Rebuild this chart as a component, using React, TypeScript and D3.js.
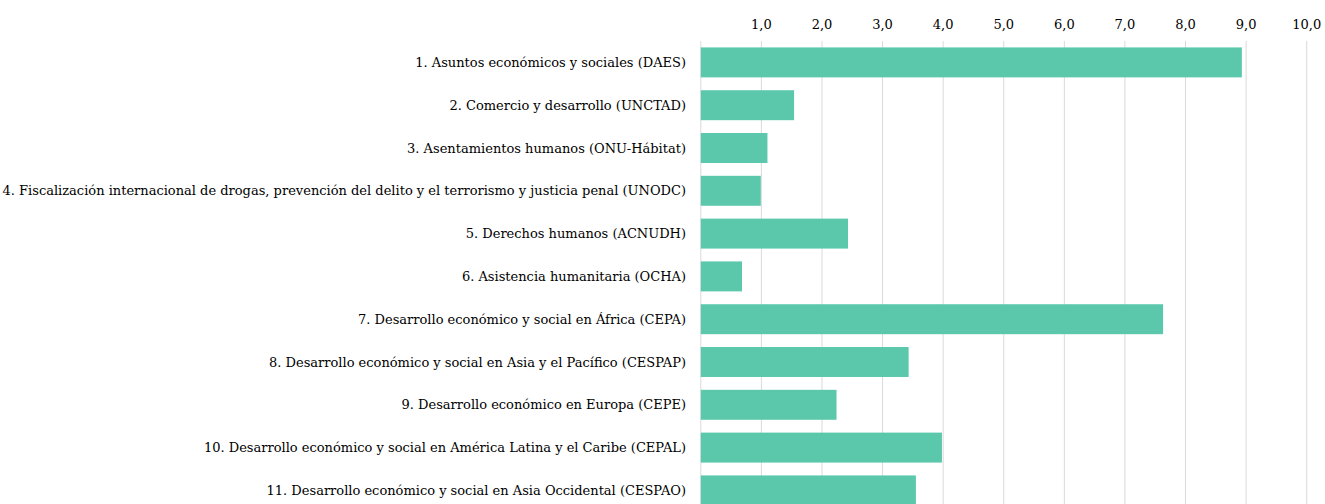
import React from 'react';
import * as d3 from 'd3';

const categories = [
  '1. Asuntos económicos y sociales (DAES)',
  '2. Comercio y desarrollo (UNCTAD)',
  '3. Asentamientos humanos (ONU-Hábitat)',
  '4. Fiscalización internacional de drogas, prevención del delito y el terrorismo y justicia penal (UNODC)',
  '5. Derechos humanos (ACNUDH)',
  '6. Asistencia humanitaria (OCHA)',
  '7. Desarrollo económico y social en África (CEPA)',
  '8. Desarrollo económico y social en Asia y el Pacífico (CESPAP)',
  '9. Desarrollo económico en Europa (CEPE)',
  '10. Desarrollo económico y social en América Latina y el Caribe (CEPAL)',
  '11. Desarrollo económico y social en Asia Occidental (CESPAO)',
];

const values = [8.93, 1.54, 1.1, 0.99, 2.43, 0.68, 7.63, 3.43, 2.24, 3.98, 3.55];

const tickValues = [0, 1, 2, 3, 4, 5, 6, 7, 8, 9, 10];

const width = 1325;
const height = 504;

export default function App() {
  const x = d3.scaleLinear().domain([0, 10]).range([700.8, 1306.7]);
  const y = d3.scaleBand<string>()
    .domain(categories)
    .range([41, 41 + 11 * 42.8])
    .paddingInner(0.3)
    .paddingOuter(0.15);

  const fmt = (v: number) => d3.format('.1f')(v).replace('.', ',');
  const textStyle = { fontFamily: "'DejaVu Serif', serif", fontSize: '13px' };

  return (
    <svg width={width} height={height}
      style={{ position: 'absolute', left: 0, top: 0, display: 'block', background: '#fff' }}>
      {/* grid */}
      {tickValues.map(t => (
        <line key={'g' + t} x1={x(t)} x2={x(t)} y1={41} y2={height}
          stroke="#d9d9d9" strokeWidth={1} />
      ))}
      {/* tick labels on top */}
      {tickValues.filter(t => t > 0).map(t => (
        <text key={'t' + t} x={x(t)} y={24} textAnchor="middle" dominantBaseline="central"
          style={textStyle} fill="#000">{fmt(t)}</text>
      ))}
      {/* bars */}
      {categories.map((c, i) => (
        <rect key={'b' + i} x={x(0)} y={y(c)!} width={x(values[i]) - x(0)}
          height={y.bandwidth()} fill="#5bc8ac" />
      ))}
      {/* category labels */}
      {categories.map(c => (
        <text key={'l' + c} x={686} y={y(c)! + y.bandwidth() / 2} textAnchor="end"
          dominantBaseline="central" style={textStyle} fill="#000">{c}</text>
      ))}
    </svg>
  );
}
